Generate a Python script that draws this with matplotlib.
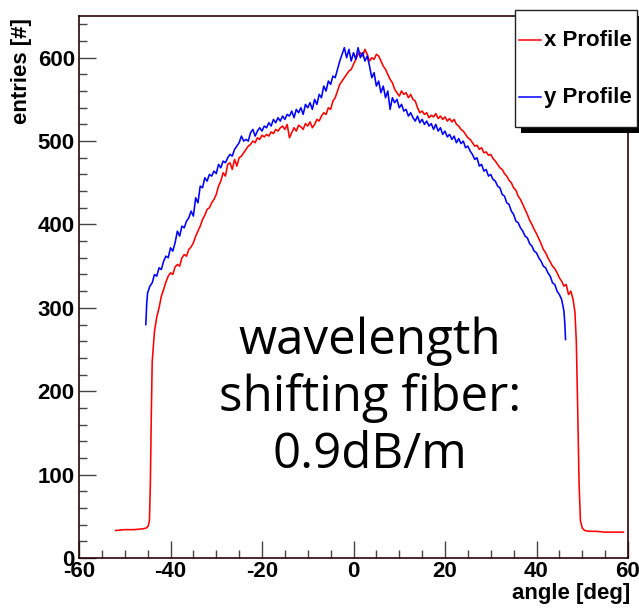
import numpy as np
import matplotlib
matplotlib.use("Agg")
import matplotlib.pyplot as plt
from matplotlib.patches import Rectangle
from matplotlib.lines import Line2D
from matplotlib.ticker import MultipleLocator

plt.rcParams["axes.unicode_minus"] = False

# ---------------- data ----------------
# x profile (red): left tail, regular 0.5 deg core, right tail
red_left_x = [-52.0, -50.0, -48.0, -46.0, -45.3, -44.9, -44.6, -44.4, -44.2, -44.0]
red_left_y = [33, 34, 34, 35, 36, 38, 45, 90, 170, 235]
red_core_start = -43.5
red_core_step = 0.5
red_core_y = [
    272, 289, 300, 314, 322, 331, 338, 342, 340, 349, 352, 350, 360, 364, 362, 370,
    373, 378, 386, 392, 398, 406, 411, 418, 420, 426, 430, 436, 446, 452, 462, 458,
    472, 474, 466, 478, 470, 480, 482, 486, 490, 494, 496, 500, 498, 504, 502, 507,
    505, 508, 506, 511, 509, 514, 512, 516, 518, 514, 520, 504, 510, 516, 512, 519,
    517, 514, 521, 518, 523, 516, 520, 526, 524, 530, 534, 532, 540, 538, 548, 552,
    560, 568, 572, 576, 580, 584, 586, 592, 598, 604, 606, 602, 610, 604, 596, 600,
    598, 604, 602, 596, 590, 586, 580, 574, 570, 562, 558, 554, 560, 556, 558, 552,
    556, 550, 548, 540, 534, 536, 532, 534, 528, 531, 529, 533, 527, 530, 526, 529,
    524, 527, 523, 526, 520, 518, 514, 512, 508, 504, 502, 498, 494, 495, 490, 492,
    486, 487, 483, 484, 479, 476, 472, 468, 466, 461, 458, 453, 450, 444, 441, 434,
    430, 424, 418, 412, 405, 400, 394, 389, 383, 377, 370, 366, 360, 355, 350, 347,
    342, 336, 332, 326, 328, 316, 320, 310,
]
red_right_x = [48.4, 48.7, 49.0, 49.3, 49.6, 50.0, 50.5, 51.5, 53.0, 55.0, 57.0, 59.0]
red_right_y = [295, 260, 180, 90, 45, 36, 33, 32, 32, 31, 31, 31]

# y profile (blue)
blue_left_x = [-45.4, -45.2]
blue_left_y = [280, 305]
blue_core_start = -45.0
blue_core_step = 0.5
blue_core_y = [
    318, 326, 330, 340, 338, 348, 346, 356, 362, 360, 372, 368, 378, 392, 386, 398,
    396, 404, 408, 416, 410, 432, 426, 446, 444, 456, 452, 460, 458, 464, 461, 472,
    468, 476, 474, 480, 484, 482, 490, 494, 498, 506, 500, 502, 500, 510, 514, 506,
    512, 516, 512, 518, 516, 522, 518, 526, 522, 528, 524, 530, 526, 532, 530, 536,
    528, 538, 534, 540, 532, 544, 540, 546, 538, 550, 544, 556, 552, 566, 560, 572,
    568, 578, 576, 586, 596, 604, 612, 600, 610, 596, 606, 598, 612, 600, 606, 596,
    602, 590, 576, 582, 566, 572, 558, 566, 552, 560, 538, 552, 546, 550, 540, 544,
    536, 538, 530, 534, 528, 524, 530, 522, 526, 520, 524, 518, 521, 514, 520, 512,
    516, 508, 512, 505, 508, 502, 506, 498, 503, 497, 500, 492, 494, 488, 484, 478,
    480, 470, 472, 464, 466, 458, 460, 454, 452, 446, 444, 436, 434, 426, 424, 416,
    412, 404, 402, 396, 392, 386, 384, 377, 374, 368, 366, 360, 356, 350, 348, 342,
    338, 330, 328, 320, 316, 310, 296,
]
blue_right_x = [46.2, 46.35]
blue_right_y = [280, 262]

x_ticks = [-60, -40, -20, 0, 20, 40, 60]
y_ticks = [0, 100, 200, 300, 400, 500, 600]
legend_labels = ["x Profile", "y Profile"]
x_label = "angle [deg]"
y_label = "entries [#]"
annotation = "wavelength\nshifting fiber:\n0.9dB/m"

# ---------------- assemble series ----------------
red_core_x = red_core_start + red_core_step * np.arange(len(red_core_y))
blue_core_x = blue_core_start + blue_core_step * np.arange(len(blue_core_y))
red_x = np.concatenate([red_left_x, red_core_x, red_right_x])
red_y = np.concatenate([red_left_y, red_core_y, red_right_y])
blue_x = np.concatenate([blue_left_x, blue_core_x, blue_right_x])
blue_y = np.concatenate([blue_left_y, blue_core_y, blue_right_y])

W, H = 639, 610
fig = plt.figure(figsize=(W / 100, H / 100), dpi=100)
L, R, T, B = 79, 628, 16, 558
ax = fig.add_axes([L / W, 1 - B / H, (R - L) / W, (B - T) / H])

ax.plot(red_x, red_y, color="#ff0000", lw=1.15)
ax.plot(blue_x, blue_y, color="#0000ff", lw=1.15)

ax.set_xlim(-60, 60)
ax.set_ylim(0, 650)
ax.set_xticks(x_ticks)
ax.set_yticks(y_ticks)
ax.xaxis.set_minor_locator(MultipleLocator(5))
ax.yaxis.set_minor_locator(MultipleLocator(20))

FAM = ["Liberation Sans", "DejaVu Sans"]
FS = 16
ax.tick_params(axis="both", which="major", direction="in", length=12, width=1.0,
               color="#444444")
ax.tick_params(axis="both", which="minor", direction="in", length=5.5, width=1.0,
               color="#444444")
ax.tick_params(axis="x", pad=2.0)
ax.tick_params(axis="y", pad=3.0)
for lab in ax.get_xticklabels() + ax.get_yticklabels():
    lab.set_fontfamily(FAM)
    lab.set_fontweight("bold")
    lab.set_fontsize(FS)

frame_col = "#2a0505"
for s in ax.spines.values():
    s.set_color(frame_col)
    s.set_linewidth(1.2)

# axis titles (ROOT style: at the ends)
fig.text((R + 2) / W, 1 - 593 / H, x_label, ha="right", va="center",
         fontfamily=FAM, fontweight="bold", fontsize=FS)
fig.text(22 / W, 1 - 18 / H, y_label, ha="center", va="top", rotation=90,
         fontfamily=FAM, fontweight="bold", fontsize=FS)

# annotation text
ax.text(0.53, 0.295, annotation, transform=ax.transAxes, ha="center", va="center",
        fontfamily=["Open Sans", "DejaVu Sans"], fontsize=35.5, linespacing=1.2,
        color="black")

# legend box with ROOT-like shadow (figure pixel coordinates)
def fx(px):
    return px / W

def fy(py):
    return 1 - py / H

lx0, ly0, lx1, ly1 = 515, 10, 637, 127
sh = 6
fig.patches.append(Rectangle((fx(lx0 + sh), fy(ly1 + sh)), fx(lx1 - lx0), (ly1 - ly0) / H,
                             transform=fig.transFigure, facecolor="black",
                             edgecolor="none", zorder=5))
fig.patches.append(Rectangle((fx(lx0), fy(ly1)), fx(lx1 - lx0), (ly1 - ly0) / H,
                             transform=fig.transFigure, facecolor="white",
                             edgecolor="#222222", linewidth=1.0, zorder=6))
for i, (lab, col) in enumerate(zip(legend_labels, ["#ff0000", "#0000ff"])):
    yy = [40, 97][i]
    fig.lines.append(Line2D([fx(519), fx(541)], [fy(yy), fy(yy)],
                            transform=fig.transFigure, color=col, lw=1.1, zorder=7))
    fig.text(fx(544), fy(yy + 1), lab, ha="left", va="center", zorder=8,
             fontfamily=FAM, fontweight="bold", fontsize=FS)

fig.savefig("out.png", dpi=100)
